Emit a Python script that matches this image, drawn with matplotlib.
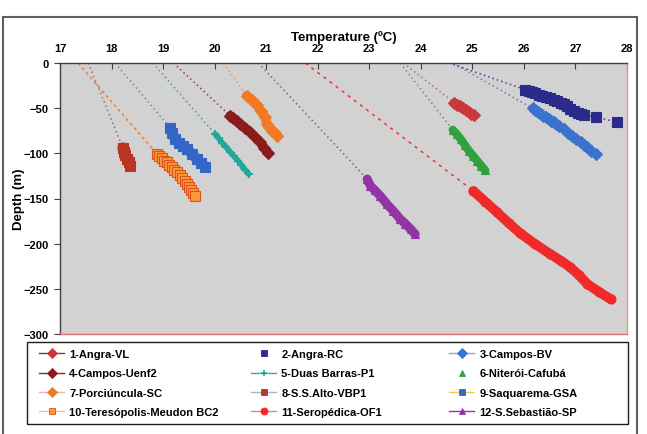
import matplotlib
matplotlib.use("Agg")
import matplotlib.pyplot as plt
from matplotlib.lines import Line2D
from matplotlib.patches import Rectangle

plt.rcParams['font.family'] = ['Liberation Sans Narrow', 'Liberation Sans', 'DejaVu Sans']
plt.rcParams['font.weight'] = 'bold'

names = ["1-Angra-VL", "2-Angra-RC", "3-Campos-BV", "4-Campos-Uenf2", "5-Duas Barras-P1",
         "6-Niterói-Cafubá", "7-Porciúncula-SC", "8-S.S.Alto-VBP1", "9-Saquarema-GSA",
         "10-Teresópolis-Meudon BC2", "11-Seropédica-OF1", "12-S.Sebastião-SP"]

# surface temperature (depth 0) each profile is extrapolated to
surf_t = [23.66, 24.55, 24.62, 19.2, 18.8, 23.6, 20.17, 17.55, 18.07, 17.35, 21.76, 20.85]

t1 = [24.65, 24.71, 24.76, 24.82, 24.87, 24.93, 24.98, 25.04]
d1 = [-44, -46, -48, -50, -52, -54, -56, -58]
t2 = [26.03, 26.09, 26.16, 26.22, 26.29, 26.36, 26.43, 26.51, 26.58, 26.65, 26.71, 26.77,
      26.83, 26.90, 26.97, 27.04, 27.10, 27.16, 27.39, 27.80]
d2 = [-29.6, -31, -32.5, -33.5, -35, -36.5, -37.5, -39, -40.5, -42.5, -44, -45.5,
      -48, -50.5, -52.8, -55, -56.5, -57.6, -60.1, -65]
t3 = [26.17, 26.22, 26.27, 26.33, 26.38, 26.43, 26.48, 26.53, 26.58, 26.63, 26.68, 26.77,
      26.86, 26.94, 27.02, 27.10, 27.17, 27.23, 27.31, 27.39]
d3 = [-50.2, -52.5, -54.5, -56.5, -58.3, -60, -62, -64, -65.7, -67.5, -69.5, -73.1,
      -77, -80.5, -84, -87.8, -90.5, -93.4, -97, -100.8]
t4 = [20.30, 20.36, 20.43, 20.50, 20.59, 20.69, 20.78, 20.88, 20.96, 21.04]
d4 = [-58.3, -61, -64.5, -67.6, -72, -76.8, -82, -87.8, -94, -100]
t5 = [20.01, 20.08, 20.15, 20.23, 20.30, 20.38, 20.45, 20.52, 20.59, 20.66]
d5 = [-78.6, -83.5, -88.5, -93.5, -98.5, -103.5, -108, -113, -118, -123]
t6 = [24.62, 24.70, 24.77, 24.85, 24.93, 25.01, 25.09, 25.17, 25.25]
d6 = [-74, -79, -84, -90.5, -97, -102.5, -108, -113.5, -119]
t7 = [20.62, 20.72, 20.82, 20.90, 20.98, 21.01, 21.06, 21.11, 21.17, 21.21]
d7 = [-36, -41.5, -47, -53.5, -60, -67.5, -71, -75, -78, -80.5]
t8 = [18.22, 18.24, 18.27, 18.30, 18.33, 18.36]
d8 = [-94, -98, -102, -106, -110, -114]
t9 = [19.14, 19.18, 19.23, 19.30, 19.38, 19.46, 19.56, 19.65, 19.74, 19.82]
d9 = [-72, -78, -84, -88.5, -92, -95, -100.5, -106, -111, -115.5]
t10 = [18.88, 18.93, 18.97, 19.02, 19.07, 19.12, 19.17, 19.22, 19.27, 19.32, 19.37, 19.42,
       19.46, 19.50, 19.54, 19.58, 19.62]
d10 = [-100.8, -103, -105.5, -108, -110, -113, -115.5, -118, -121, -124, -127.5, -131,
       -134, -137, -140.5, -144, -147]
t11 = [25.02, 25.25, 25.48, 25.71, 25.93, 26.22, 26.51, 26.72, 26.90, 27.07, 27.23, 27.45, 27.68]
d11 = [-141.7, -153.5, -165.3, -177.5, -188.5, -200.5, -211.5, -219, -226.2, -235, -244.7, -253, -261.4]
t12 = [22.96, 23.02, 23.11, 23.21, 23.34, 23.47, 23.60, 23.70, 23.80, 23.89]
d12 = [-128.5, -135.9, -141, -147, -156, -164, -172.8, -178, -183.8, -189.4]

temps = [t1, t2, t3, t4, t5, t6, t7, t8, t9, t10, t11, t12]
depths = [d1, d2, d3, d4, d5, d6, d7, d8, d9, d10, d11, d12]

mcol = ['#c8383a', '#2b2b8c', '#3a72cc', '#8a1c1c', '#22a89a', '#33a040',
        '#f37a22', '#b83424', '#3466c6', '#fb9a3a', '#f02a2a', '#9433a6']
medge = ['#c8383a', '#2b2b8c', '#3a72cc', '#8a1c1c', '#22a89a', '#33a040',
         '#f37a22', '#b83424', '#3466c6', '#e0501a', '#f02a2a', '#9433a6']
markers = ['D', 's', 'D', 'D', '+', '^', 'D', 's', 's', 's', 'o', '^']
msize = [6, 7, 6, 6, 6, 6, 6, 7, 7, 6.5, 6.5, 6]
ext_col = ['#b07070', '#404090', '#6080b0', '#904040', '#40a0a0', '#50a060',
           '#f09050', '#907070', '#6090b0', '#f08030', '#f03030', '#806090']
ext_ls = [(0, (1, 2))] * 9 + [(0, (2, 2)), (0, (2, 3)), (0, (1, 2))]
band_n = [8, 18, 20, 10, 10, 9, 10, 6, 10, 0, 13, 10]
band_w = [6, 6.5, 5.5, 6.5, 4, 6, 6.5, 8, 7.5, 0, 7, 6.5]
leg_line = ['#5a3c8a', 'none', '#90a8c8', '#8a2a2a', '#30b0a8', 'none',
            '#f4b0b8', '#90c8c0', '#f0d040', '#f8c080', '#f08080', '#9433a6']

fig = plt.figure(figsize=(6.47, 4.35), dpi=100)
ax = fig.add_axes([60 / 647, 1 - 335 / 435, 567 / 647, 271 / 435])
ax.set_facecolor('#d2d2d2')

for i in range(12):
    ax.plot([surf_t[i]] + temps[i], [0] + depths[i], color=ext_col[i], ls=ext_ls[i],
            lw=1.1, zorder=2)
    n = band_n[i]
    if n > 1:
        ax.plot(temps[i][:n], depths[i][:n], color=mcol[i], lw=band_w[i],
                solid_capstyle='round', zorder=3)
    ax.plot(temps[i], depths[i], ls='none', marker=markers[i], ms=msize[i],
            mfc=mcol[i], mec=medge[i], mew=1.5 if markers[i] == '+' else 0.8, zorder=4)

ax.set_xlim(17, 28)
ax.set_ylim(-300, 0)
ax.set_xticks(range(17, 29))
ax.set_yticks(range(-300, 1, 50))
ax.xaxis.tick_top()
ax.xaxis.set_label_position('top')
ax.tick_params(axis='x', direction='in', length=4, labelsize=8, pad=7, color='#404040')
ax.tick_params(axis='y', direction='out', length=4, labelsize=8, pad=4, color='#404040')
for lab in ax.get_xticklabels() + ax.get_yticklabels():
    lab.set_fontweight('bold')
ax.set_xlabel('Temperature (ºC)', fontsize=9.5, fontweight='bold', labelpad=2)
ax.set_ylabel('Depth (m)', fontsize=9.5, fontweight='bold')
ax.yaxis.set_label_coords(-0.062, 0.5)
ax.spines['top'].set_color('#404040')
ax.spines['left'].set_color('#404040')
ax.spines['right'].set_color('#e89090')
ax.spines['bottom'].set_color('#e07070')
for s in ax.spines.values():
    s.set_linewidth(1)

handles = []
for i in range(12):
    handles.append(Line2D([], [], color=leg_line[i], lw=1, marker=markers[i], ms=5,
                          mfc=mcol[i], mec=medge[i], mew=1.2 if markers[i] == '+' else 0.6))

# legend box drawn separately, one legend per column placed inside it
fig.add_artist(Rectangle((27 / 647, 1 - 425 / 435), 601 / 647, 82 / 435,
                         transform=fig.transFigure, fill=False, ec='#202020', lw=1, zorder=5))
col_x = [36, 248, 446]
for c in range(3):
    idx = [c, c + 3, c + 6, c + 9]
    fig.legend([handles[k] for k in idx], [names[k] for k in idx], loc='upper left',
               bbox_to_anchor=(col_x[c] / 647, 1 - 347 / 435), bbox_transform=fig.transFigure,
               frameon=False, fontsize=8, handlelength=2.2, handletextpad=0.5,
               labelspacing=0.82, borderaxespad=0, borderpad=0.3)

fig.add_artist(Rectangle((3 / 647, -0.05), 634 / 647, 1.05 - 18 / 435, transform=fig.transFigure,
                         fill=False, ec='#606060', lw=1.5))

fig.savefig('out.png', dpi=100)
